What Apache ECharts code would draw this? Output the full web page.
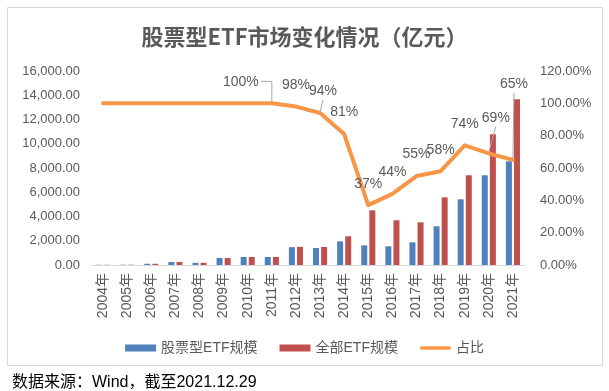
<!DOCTYPE html>
<html>
<head>
<meta charset="utf-8">
<script src="https://cdn.jsdelivr.net/npm/echarts@6/dist/echarts.min.js"></script>
<style>html,body{margin:0;padding:0;background:#fff;}#c{width:609px;height:391px;}</style>
</head>
<body>
<div id="c"></div>
<script>
var years = ['2004年','2005年','2006年','2007年','2008年','2009年','2010年','2011年','2012年','2013年','2014年','2015年','2016年','2017年','2018年','2019年','2020年','2021年'];
var stockEtf = [15, 25, 100, 250, 180, 580, 660, 660, 1470, 1400, 1950, 1620, 1540, 1870, 3190, 5420, 7400, 8550];
var allEtf   = [15, 25, 100, 250, 180, 580, 660, 660, 1500, 1490, 2370, 4510, 3690, 3520, 5580, 7400, 10780, 13670];
var ratio    = [100, 100, 100, 100, 100, 100, 100, 100, 98, 94, 81, 37, 44, 55, 58, 74, 69, 65];
var labelled = [7, 8, 9, 10, 11, 12, 13, 14, 15, 16, 17];
var leaderLine = [7, 9, 16, 17];
var labelShift = {7: [-31, 0], 9: [3, 0], 16: [7, -14], 17: [1, -54]};
var LABEL_DIST = 14;

var FONT = '"Liberation Sans", "Noto Sans CJK SC", sans-serif';
var GRAY = '#595959';

function fmtNum(v) {
  var s = v.toFixed(2);
  var parts = s.split('.');
  parts[0] = parts[0].replace(/\B(?=(\d{3})+(?!\d))/g, ',');
  return parts.join('.');
}

var lineData = ratio.map(function (v, i) {
  var item = { value: v };
  if (labelled.indexOf(i) >= 0) item.label = { show: true };
  return item;
});
var leaderData = leaderLine.map(function (i) { return [i, ratio[i]]; });

var chart = echarts.init(document.getElementById('c'), null, { renderer: 'canvas' });
chart.setOption({
  animation: false,
  backgroundColor: '#fff',
  title: [{
    text: '股票型ETF市场变化情况（亿元）',
    left: 'center',
    top: 21,
    textStyle: { fontFamily: '"Noto Sans CJK SC", sans-serif', fontSize: 22, fontWeight: 'bold', color: GRAY }
  }, {
    text: '数据来源：Wind，截至2021.12.29',
    left: 7,
    top: 370,
    textStyle: { fontFamily: FONT, fontSize: 16, fontWeight: 'normal', color: '#000' }
  }],
  graphic: [{
    type: 'rect',
    shape: { x: 7.5, y: 7.5, width: 595, height: 358 },
    style: { fill: 'none', stroke: '#D9D9D9', lineWidth: 1 },
    silent: true
  }],
  legend: {
    left: 'center',
    top: 336,
    itemWidth: 31,
    itemHeight: 7,
    itemGap: 22,
    textStyle: { fontFamily: FONT, fontSize: 14, color: GRAY },
    data: [
      { name: '股票型ETF规模', icon: 'rect' },
      { name: '全部ETF规模', icon: 'rect' },
      { name: '占比', icon: 'path://M3,1 L33,1 A2,2 0 0 1 33,5 L3,5 A2,2 0 0 1 3,1 Z', itemStyle: { color: '#F79646' } }
    ]
  },
  grid: { left: 91, right: 84, top: 71, bottom: 126, containLabel: false },
  xAxis: {
    type: 'category',
    data: years,
    axisLine: { lineStyle: { color: '#D9D9D9', width: 1 } },
    axisTick: { show: false },
    axisLabel: { rotate: 90, interval: 0, fontFamily: FONT, fontSize: 14, color: GRAY, margin: 8 }
  },
  yAxis: [{
    type: 'value',
    min: 0, max: 16000, interval: 2000,
    splitLine: { show: false },
    axisLine: { show: false },
    axisTick: { show: false },
    axisLabel: { fontFamily: FONT, fontSize: 13, color: GRAY, margin: 11, formatter: function (v) { return fmtNum(v); } }
  }, {
    type: 'value',
    min: 0, max: 120, interval: 20,
    splitLine: { show: false },
    axisLine: { show: false },
    axisTick: { show: false },
    axisLabel: { fontFamily: FONT, fontSize: 13, color: GRAY, margin: 15, formatter: function (v) { return v.toFixed(2) + '%'; } }
  }],
  series: [{
    name: '股票型ETF规模',
    type: 'bar',
    data: stockEtf,
    barWidth: 6,
    barGap: '35%',
    itemStyle: { color: '#4F81BD' }
  }, {
    name: '全部ETF规模',
    type: 'bar',
    data: allEtf,
    barWidth: 6,
    itemStyle: { color: '#C0504D' }
  }, {
    name: '引导线',
    type: 'custom',
    yAxisIndex: 1,
    data: leaderData,
    silent: true,
    z: 4,
    renderItem: function (params, api) {
      var idx = api.value(0);
      var pt = api.coord([idx, api.value(1)]);
      var s = labelShift[idx];
      var cx = pt[0] + s[0];
      var cy = pt[1] - LABEL_DIST - 8 + s[1];
      var pts;
      if (Math.abs(s[0]) > 20) {
        pts = [[cx + 20, cy], [pt[0], cy], [pt[0], pt[1] - 1]];
      } else {
        pts = [[cx, cy + 9], [pt[0], pt[1] - 1]];
      }
      return {
        type: 'polyline',
        shape: { points: pts },
        style: { stroke: '#A6A6A6', lineWidth: 1, fill: null }
      };
    }
  }, {
    name: '占比',
    type: 'line',
    yAxisIndex: 1,
    data: lineData,
    symbol: 'circle',
    symbolSize: 1,
    showSymbol: true,
    itemStyle: { color: '#F79646' },
    lineStyle: { color: '#F79646', width: 4, cap: 'round', join: 'round' },
    label: {
      show: false,
      position: 'top',
      distance: LABEL_DIST,
      fontFamily: FONT,
      fontSize: 14,
      color: GRAY,
      formatter: function (p) { return p.value + '%'; }
    },
    labelLayout: function (p) {
      var s = labelShift[p.dataIndex];
      if (!s) return {};
      var r = p.labelRect;
      return { x: r.x + s[0], y: r.y + s[1], align: 'left', verticalAlign: 'top' };
    },
    z: 5
  }]
});
</script>
</body>
</html>
